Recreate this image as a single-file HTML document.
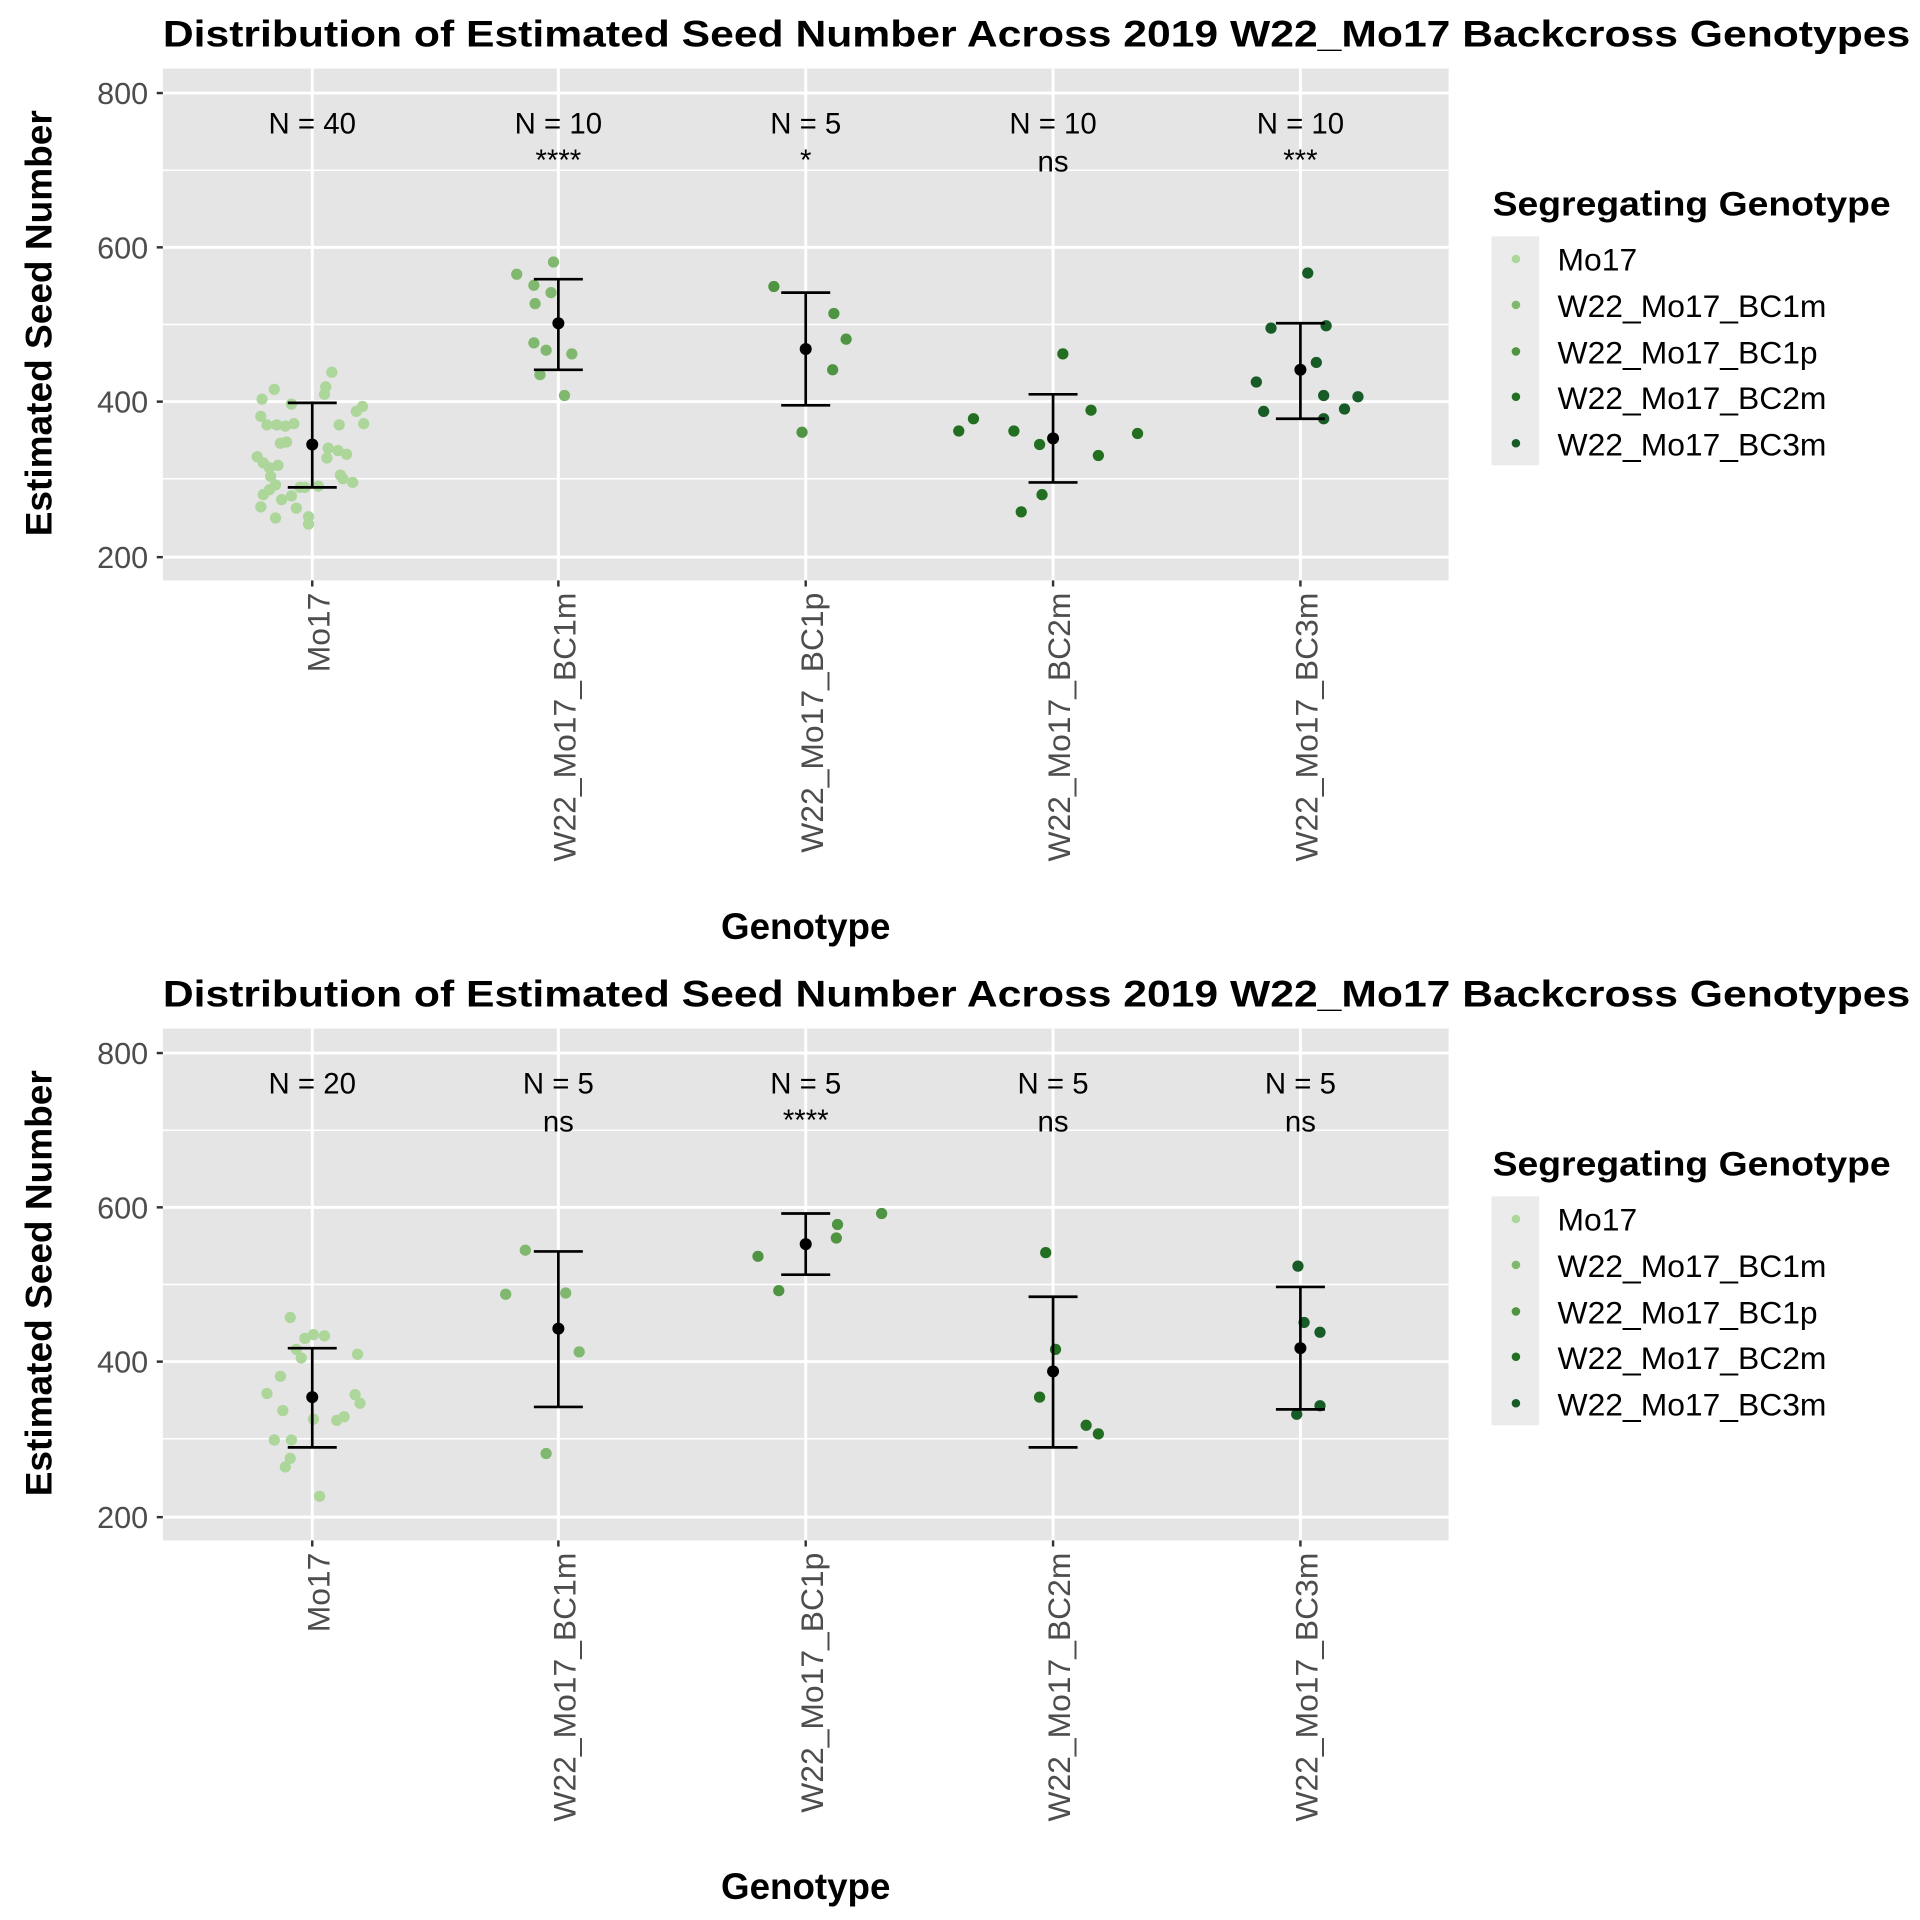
<!DOCTYPE html>
<html><head><meta charset="utf-8"><style>html,body{margin:0;padding:0;background:#fff}svg{display:block}</style></head>
<body>
<svg xmlns="http://www.w3.org/2000/svg" width="1920" height="1920" viewBox="0 0 1568 1568" font-family="'Liberation Sans', Arial, sans-serif">
<defs>
<g id="panel">
  <rect x="133" y="56" width="1050" height="418" fill="#e5e5e5"/>
  <g stroke="#fff" stroke-width="1.2">
    <line x1="133" x2="1183" y1="139" y2="139"/><line x1="133" x2="1183" y1="265" y2="265"/><line x1="133" x2="1183" y1="391" y2="391"/>
  </g>
  <g stroke="#fff" stroke-width="2.4">
    <line x1="133" x2="1183" y1="76" y2="76"/><line x1="133" x2="1183" y1="202" y2="202"/><line x1="133" x2="1183" y1="328" y2="328"/><line x1="133" x2="1183" y1="455" y2="455"/>
    <line x1="255" x2="255" y1="56" y2="474"/><line x1="456" x2="456" y1="56" y2="474"/><line x1="658" x2="658" y1="56" y2="474"/><line x1="860" x2="860" y1="56" y2="474"/><line x1="1062" x2="1062" y1="56" y2="474"/>
  </g>
  <g stroke="#333" stroke-width="2">
    <line x1="128" x2="133" y1="76" y2="76"/><line x1="128" x2="133" y1="202" y2="202"/><line x1="128" x2="133" y1="328" y2="328"/><line x1="128" x2="133" y1="455" y2="455"/>
    <line x1="255" x2="255" y1="474" y2="479"/><line x1="456" x2="456" y1="474" y2="479"/><line x1="658" x2="658" y1="474" y2="479"/><line x1="860" x2="860" y1="474" y2="479"/><line x1="1062" x2="1062" y1="474" y2="479"/>
  </g>
  <g fill="#4d4d4d" font-size="25" text-anchor="end">
    <text x="121" y="85">800</text><text x="121" y="211">600</text><text x="121" y="337">400</text><text x="121" y="464">200</text>
  </g>
  <g fill="#4d4d4d" font-size="26" text-anchor="end">
    <text transform="translate(269,484) rotate(-90)">Mo17</text>
    <text transform="translate(470,484) rotate(-90)">W22_Mo17_BC1m</text>
    <text transform="translate(672,484) rotate(-90)">W22_Mo17_BC1p</text>
    <text transform="translate(874,484) rotate(-90)">W22_Mo17_BC2m</text>
    <text transform="translate(1076,484) rotate(-90)">W22_Mo17_BC3m</text>
  </g>
  <text x="658" y="767" font-size="30" font-weight="bold" text-anchor="middle">Genotype</text>
  <text transform="translate(42,264) rotate(-90)" font-size="30" font-weight="bold" text-anchor="middle" textLength="348" lengthAdjust="spacingAndGlyphs">Estimated Seed Number</text>
  <text x="133" y="38" font-size="30" font-weight="bold" textLength="1427" lengthAdjust="spacingAndGlyphs">Distribution of Estimated Seed Number Across 2019 W22_Mo17 Backcross Genotypes</text>
  <text x="1219" y="176" font-size="28" font-weight="bold" textLength="325" lengthAdjust="spacingAndGlyphs">Segregating Genotype</text>
  <rect x="1218" y="193" width="39" height="187" fill="#ebebeb"/>
  <circle cx="1238" cy="211.5" r="3.5" fill="#acd69a"/>
  <circle cx="1238" cy="249" r="3.5" fill="#80b86f"/>
  <circle cx="1238" cy="287" r="3.5" fill="#4f9443"/>
  <circle cx="1238" cy="324" r="3.5" fill="#236f21"/>
  <circle cx="1238" cy="362" r="3.5" fill="#175b27"/>
  <g font-size="26">
    <text x="1272" y="221">Mo17</text><text x="1272" y="259">W22_Mo17_BC1m</text><text x="1272" y="297">W22_Mo17_BC1p</text><text x="1272" y="334">W22_Mo17_BC2m</text><text x="1272" y="372">W22_Mo17_BC3m</text>
  </g>
</g>
</defs>

<use href="#panel"/>
<use href="#panel" transform="translate(0,784)"/>

<g font-size="24" text-anchor="middle">
  <text x="255" y="109">N = 40</text><text x="456" y="109">N = 10</text><text x="658" y="109">N = 5</text><text x="860" y="109">N = 10</text><text x="1062" y="109">N = 10</text>
  <text x="456" y="139">****</text><text x="658" y="139">*</text><text x="860" y="140">ns</text><text x="1062" y="139">***</text>
</g>
<g fill="#acd69a">
<circle cx="215" cy="404" r="4.6"/><circle cx="220" cy="400" r="4.6"/><circle cx="225" cy="396" r="4.6"/><circle cx="238" cy="405" r="4.6"/><circle cx="230" cy="408" r="4.6"/><circle cx="213" cy="414" r="4.6"/><circle cx="225" cy="423" r="4.6"/><circle cx="210" cy="373" r="4.6"/><circle cx="215" cy="378" r="4.6"/><circle cx="220" cy="382" r="4.6"/><circle cx="227" cy="380" r="4.6"/><circle cx="234" cy="361" r="4.6"/><circle cx="229" cy="362" r="4.6"/><circle cx="240" cy="346" r="4.6"/><circle cx="213" cy="340" r="4.6"/><circle cx="218" cy="347" r="4.6"/><circle cx="265" cy="322" r="4.6"/><circle cx="266" cy="316" r="4.6"/><circle cx="271" cy="304" r="4.6"/><circle cx="267" cy="374" r="4.6"/><circle cx="268" cy="366" r="4.6"/><circle cx="276" cy="368" r="4.6"/><circle cx="277" cy="347" r="4.6"/><circle cx="296" cy="332" r="4.6"/><circle cx="291" cy="336" r="4.6"/><circle cx="297" cy="346" r="4.6"/><circle cx="283" cy="371" r="4.6"/><circle cx="278" cy="388" r="4.6"/><circle cx="280" cy="391" r="4.6"/><circle cx="288" cy="394" r="4.6"/><circle cx="260" cy="397" r="4.6"/><circle cx="245" cy="398" r="4.6"/><circle cx="249" cy="398" r="4.6"/><circle cx="233" cy="348" r="4.6"/><circle cx="226" cy="347" r="4.6"/><circle cx="242" cy="415" r="4.6"/><circle cx="252" cy="422" r="4.6"/><circle cx="252" cy="428" r="4.6"/><circle cx="221" cy="389" r="4.6"/><circle cx="214" cy="326" r="4.6"/><circle cx="224" cy="318" r="4.6"/><circle cx="238" cy="330" r="4.6"/>
</g>
<g fill="#80b86f">
<circle cx="422" cy="224" r="4.6"/><circle cx="436" cy="233" r="4.6"/><circle cx="452" cy="214" r="4.6"/><circle cx="450" cy="239" r="4.6"/><circle cx="437" cy="248" r="4.6"/><circle cx="436" cy="280" r="4.6"/><circle cx="446" cy="286" r="4.6"/><circle cx="467" cy="289" r="4.6"/><circle cx="441" cy="306" r="4.6"/><circle cx="461" cy="323" r="4.6"/>
</g>
<g fill="#4f9443">
<circle cx="632" cy="234" r="4.6"/><circle cx="681" cy="256" r="4.6"/><circle cx="691" cy="277" r="4.6"/><circle cx="680" cy="302" r="4.6"/><circle cx="655" cy="353" r="4.6"/>
</g>
<g fill="#236f21">
<circle cx="783" cy="352" r="4.6"/><circle cx="795" cy="342" r="4.6"/><circle cx="828" cy="352" r="4.6"/><circle cx="849" cy="363" r="4.6"/><circle cx="868" cy="289" r="4.6"/><circle cx="891" cy="335" r="4.6"/><circle cx="929" cy="354" r="4.6"/><circle cx="897" cy="372" r="4.6"/><circle cx="851" cy="404" r="4.6"/><circle cx="834" cy="418" r="4.6"/>
</g>
<g fill="#175b27">
<circle cx="1068" cy="223" r="4.6"/><circle cx="1038" cy="268" r="4.6"/><circle cx="1083" cy="266" r="4.6"/><circle cx="1075" cy="296" r="4.6"/><circle cx="1026" cy="312" r="4.6"/><circle cx="1032" cy="336" r="4.6"/><circle cx="1081" cy="323" r="4.6"/><circle cx="1098" cy="334" r="4.6"/><circle cx="1109" cy="324" r="4.6"/><circle cx="1081" cy="342" r="4.6"/>
</g>
<g stroke="#000" stroke-width="2.2" fill="none">
<path d="M255 329V398M235 329H275M235 398H275"/>
<path d="M456 228V302M436 228H476M436 302H476"/>
<path d="M658 239V331M638 239H678M638 331H678"/>
<path d="M860 322V394M840 322H880M840 394H880"/>
<path d="M1062 264V342M1042 264H1082M1042 342H1082"/>
</g>
<g fill="#000">
<circle cx="255" cy="363" r="4.9"/><circle cx="456" cy="264" r="4.9"/><circle cx="658" cy="285" r="4.9"/><circle cx="860" cy="358" r="4.9"/><circle cx="1062" cy="302" r="4.9"/>
</g>

<g font-size="24" text-anchor="middle">
  <text x="255" y="893">N = 20</text><text x="456" y="893">N = 5</text><text x="658" y="893">N = 5</text><text x="860" y="893">N = 5</text><text x="1062" y="893">N = 5</text>
  <text x="456" y="924">ns</text><text x="658" y="923">****</text><text x="860" y="924">ns</text><text x="1062" y="924">ns</text>
</g>
<g fill="#acd69a">
<circle cx="237" cy="1076" r="4.6"/><circle cx="249" cy="1093" r="4.6"/><circle cx="256" cy="1090" r="4.6"/><circle cx="265" cy="1091" r="4.6"/><circle cx="242" cy="1102" r="4.6"/><circle cx="246" cy="1109" r="4.6"/><circle cx="292" cy="1106" r="4.6"/><circle cx="229" cy="1124" r="4.6"/><circle cx="218" cy="1138" r="4.6"/><circle cx="231" cy="1152" r="4.6"/><circle cx="256" cy="1159" r="4.6"/><circle cx="275" cy="1160" r="4.6"/><circle cx="281" cy="1157" r="4.6"/><circle cx="290" cy="1139" r="4.6"/><circle cx="294" cy="1146" r="4.6"/><circle cx="224" cy="1176" r="4.6"/><circle cx="238" cy="1176" r="4.6"/><circle cx="237" cy="1191" r="4.6"/><circle cx="233" cy="1198" r="4.6"/><circle cx="261" cy="1222" r="4.6"/>
</g>
<g fill="#80b86f">
<circle cx="429" cy="1021" r="4.6"/><circle cx="413" cy="1057" r="4.6"/><circle cx="462" cy="1056" r="4.6"/><circle cx="473" cy="1104" r="4.6"/><circle cx="446" cy="1187" r="4.6"/>
</g>
<g fill="#4f9443">
<circle cx="619" cy="1026" r="4.6"/><circle cx="636" cy="1054" r="4.6"/><circle cx="684" cy="1000" r="4.6"/><circle cx="683" cy="1011" r="4.6"/><circle cx="720" cy="991" r="4.6"/>
</g>
<g fill="#236f21">
<circle cx="854" cy="1023" r="4.6"/><circle cx="862" cy="1102" r="4.6"/><circle cx="849" cy="1141" r="4.6"/><circle cx="887" cy="1164" r="4.6"/><circle cx="897" cy="1171" r="4.6"/>
</g>
<g fill="#175b27">
<circle cx="1060" cy="1034" r="4.6"/><circle cx="1065" cy="1080" r="4.6"/><circle cx="1078" cy="1088" r="4.6"/><circle cx="1078" cy="1148" r="4.6"/><circle cx="1059" cy="1155" r="4.6"/>
</g>
<g stroke="#000" stroke-width="2.2" fill="none">
<path d="M255 1101V1182M235 1101H275M235 1182H275"/>
<path d="M456 1022V1149M436 1022H476M436 1149H476"/>
<path d="M658 991V1041M638 991H678M638 1041H678"/>
<path d="M860 1059V1182M840 1059H880M840 1182H880"/>
<path d="M1062 1051V1151M1042 1051H1082M1042 1151H1082"/>
</g>
<g fill="#000">
<circle cx="255" cy="1141" r="4.9"/><circle cx="456" cy="1085" r="4.9"/><circle cx="658" cy="1016" r="4.9"/><circle cx="860" cy="1120" r="4.9"/><circle cx="1062" cy="1101" r="4.9"/>
</g>
</svg>
</body></html>
